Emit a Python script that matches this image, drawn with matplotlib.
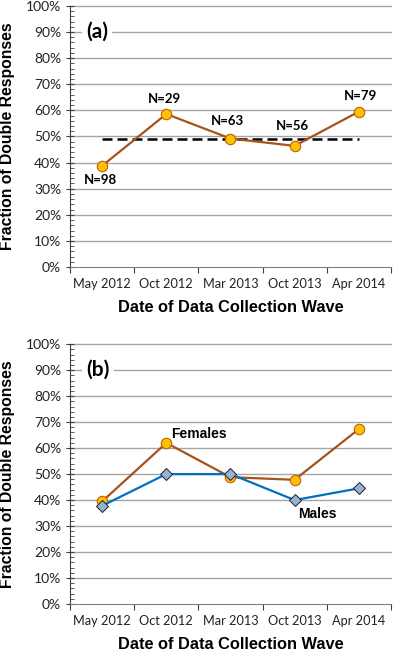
import matplotlib.pyplot as plt
from matplotlib.ticker import MultipleLocator, PercentFormatter, FixedLocator, NullFormatter

# data
waves = ['May 2012', 'Oct 2012', 'Mar 2013', 'Oct 2013', 'Apr 2014']
overall = [0.388, 0.586, 0.492, 0.464, 0.595]
n_labels = ['N=98', 'N=29', 'N=63', 'N=56', 'N=79']
overall_mean = 0.49
females = [0.395, 0.620, 0.488, 0.478, 0.673]
males = [0.378, 0.500, 0.500, 0.400, 0.445]

tick_font = 'Lato'
bold_font = 'Liberation Sans'
gold = '#FFC000'
brown = '#A5521B'
blue = '#0070C0'
lightblue = '#95B3D7'

fig = plt.figure(figsize=(3.94, 6.53), dpi=100)
ax_a = fig.add_axes([0.178, 0.591, 0.814, 0.400])
ax_b = fig.add_axes([0.178, 0.075, 0.814, 0.398])


def style_axes(ax, tag):
    x = range(len(waves))
    ax.set_xlim(-0.5, len(waves) - 0.5)
    ax.set_ylim(0, 1)
    ax.yaxis.set_major_locator(MultipleLocator(0.1))
    ax.yaxis.set_minor_locator(MultipleLocator(0.02))
    ax.yaxis.set_major_formatter(PercentFormatter(1.0, decimals=0))
    for y in [i / 10 for i in range(1, 11)]:
        ax.axhline(y, color='#A6A6A6', lw=1.0, zorder=0, clip_on=False)
    ax.xaxis.set_major_locator(FixedLocator([i - 0.5 for i in range(len(waves) + 1)]))
    ax.xaxis.set_major_formatter(NullFormatter())
    ax.xaxis.set_minor_locator(FixedLocator(list(x)))
    ax.set_xticklabels(waves, minor=True)
    ax.tick_params(axis='x', which='major', direction='out', length=4, color='#404040')
    ax.tick_params(axis='x', which='minor', length=0, pad=8, labelsize=9.2,
                   labelcolor='#222222')
    ax.tick_params(axis='y', which='major', direction='inout', length=6, color='#404040',
                   labelsize=10, labelcolor='#222222')
    ax.tick_params(axis='y', which='minor', direction='in', length=3, color='#404040')
    for lab in ax.get_xticklabels(minor=True) + ax.get_yticklabels():
        lab.set_fontfamily(tick_font)
    ax.spines['top'].set_visible(False)
    ax.spines['right'].set_visible(False)
    ax.spines['left'].set_color('#404040')
    ax.spines['bottom'].set_color('#808080')
    ax.set_ylabel('Fraction of Double Responses', fontsize=11.3, fontweight='bold',
                  family=bold_font, labelpad=8)
    ax.set_xlabel('Date of Data Collection Wave', fontsize=11.8, fontweight='bold',
                  family=bold_font, labelpad=7)
    ax.text(0.05, 0.90, tag, transform=ax.transAxes, fontsize=15, fontweight='bold',
            family=tick_font, ha='left', va='center',
            bbox=dict(facecolor='white', edgecolor='none', pad=3))


# panel (a)
style_axes(ax_a, '(a)')
ax_a.plot([0, len(waves) - 1], [overall_mean, overall_mean], color='black', lw=1.8,
          dashes=(4, 2), zorder=2)
ax_a.plot(range(len(waves)), overall, color=brown, lw=1.6, marker='o', ms=7.5,
          mfc=gold, mec='#C06000', mew=0.8, zorder=3)
offsets = [(-1.5, -10), (-1.5, 10.5), (-2, 12.5), (-1.5, 14), (1.5, 11)]
for i, (v, lab) in enumerate(zip(overall, n_labels)):
    ax_a.annotate(lab, (i, v), xytext=offsets[i], textcoords='offset points',
                  ha='center', va='center', fontsize=9.5, fontweight='bold',
                  family=tick_font)

# panel (b)
style_axes(ax_b, '(b)')
ax_b.plot(range(len(waves)), females, color=brown, lw=1.6, marker='o', ms=7.5,
          mfc=gold, mec='#C06000', mew=0.8, zorder=3)
ax_b.plot(range(len(waves)), males, color=blue, lw=1.6, marker='D', ms=6.5,
          mfc=lightblue, mec='#1F1F1F', mew=0.7, zorder=4)
ax_b.text(1.08, 0.655, 'Females', fontsize=10, fontweight='bold', family=bold_font,
          ha='left', va='center')
ax_b.text(3.05, 0.345, 'Males', fontsize=10, fontweight='bold', family=bold_font,
          ha='left', va='center')

fig.savefig('out.png', dpi=100)
